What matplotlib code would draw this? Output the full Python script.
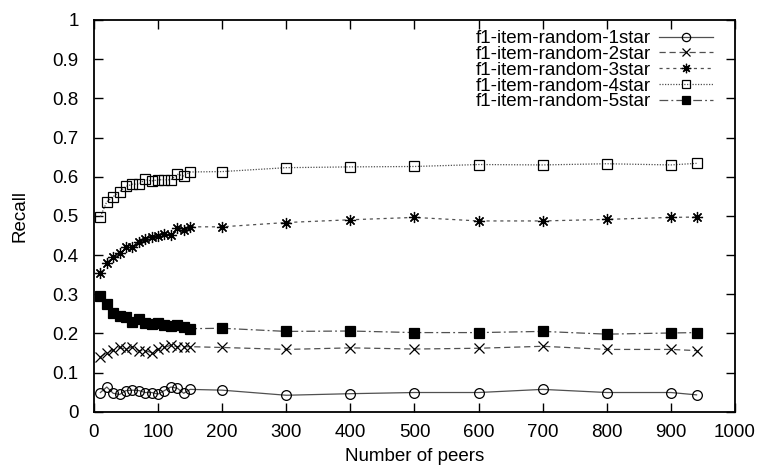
"""Recall vs number of peers, gnuplot-style line chart."""

import matplotlib

matplotlib.use("Agg")

import matplotlib.pyplot as plt  # noqa: E402
from matplotlib.ticker import FormatStrFormatter, MultipleLocator  # noqa: E402

plt.rcParams.update(
    {
        "font.family": ["Liberation Sans", "DejaVu Sans"],
        "font.size": 13.5,
        "xtick.direction": "in",
        "ytick.direction": "in",
        "xtick.top": True,
        "ytick.right": True,
    }
)

peers = [10, 20, 30, 40, 50, 60, 70, 80, 90, 100, 110, 120, 130, 140, 150,
         200, 300, 400, 500, 600, 700, 800, 900, 940]

recall_1star = [0.049, 0.063, 0.047, 0.044, 0.054, 0.055, 0.054, 0.049, 0.049, 0.045,
                0.054, 0.063, 0.060, 0.047, 0.057,
                0.055, 0.042, 0.046, 0.049, 0.049, 0.057, 0.049, 0.049, 0.043]
recall_2star = [0.140, 0.151, 0.157, 0.164, 0.159, 0.166, 0.156, 0.156, 0.151, 0.159,
                0.164, 0.170, 0.166, 0.166, 0.166,
                0.164, 0.159, 0.163, 0.160, 0.162, 0.167, 0.159, 0.159, 0.156]
recall_3star = [0.353, 0.380, 0.396, 0.404, 0.421, 0.420, 0.432, 0.440, 0.447, 0.449,
                0.454, 0.451, 0.468, 0.464, 0.472,
                0.472, 0.483, 0.490, 0.496, 0.487, 0.487, 0.491, 0.496, 0.497]
recall_4star = [0.498, 0.536, 0.549, 0.562, 0.575, 0.581, 0.581, 0.593, 0.589, 0.592,
                0.592, 0.592, 0.606, 0.602, 0.612,
                0.613, 0.623, 0.625, 0.626, 0.631, 0.630, 0.633, 0.630, 0.634]
recall_5star = [0.295, 0.275, 0.253, 0.245, 0.243, 0.230, 0.236, 0.226, 0.224, 0.226,
                0.221, 0.219, 0.222, 0.215, 0.212,
                0.213, 0.205, 0.206, 0.202, 0.202, 0.205, 0.198, 0.201, 0.202]

labels = ["f1-item-random-1star", "f1-item-random-2star", "f1-item-random-3star",
          "f1-item-random-4star", "f1-item-random-5star"]

LINE = "#505050"
styles = [
    dict(ls="-", marker="o", mfc="none", ms=7),
    dict(ls=(0, (5, 3)), marker="x", ms=7),
    dict(ls=(0, (2.5, 3)), marker=(8, 2, 0), ms=8),
    dict(ls=(0, (1, 1.2)), marker="s", mfc="none", ms=7.5),
    dict(ls=(0, (7, 2.5, 1.5, 2.5)), marker="s", mfc="black", ms=7),
]

fig = plt.figure(figsize=(7.59, 4.66), dpi=100)
ax = fig.add_axes([0.1238, 0.1165, 0.8446, 0.8406])

series = [recall_1star, recall_2star, recall_3star, recall_4star, recall_5star]
for values, label, st in zip(series, labels, styles):
    ax.plot(peers, values, color=LINE, lw=0.9, mec="black", mew=0.9, label=label, **st)

ax.set_xlim(0, 1000)
ax.set_ylim(0, 1)
ax.xaxis.set_major_locator(MultipleLocator(100))
ax.yaxis.set_major_locator(MultipleLocator(0.1))
ax.yaxis.set_major_formatter(FormatStrFormatter("%g"))
ax.tick_params(length=6.5, width=1.0)
ax.tick_params(axis="y", pad=11)
ax.tick_params(axis="x", pad=9)
for sp in ax.spines.values():
    sp.set_linewidth(1.3)

ax.set_xlabel("Number of peers", labelpad=5)
ax.set_ylabel("Recall", labelpad=17)

leg = ax.legend(loc="upper right", bbox_to_anchor=(713 / 759, 1 - 30 / 466),
                bbox_transform=fig.transFigure, frameon=False, markerfirst=False,
                borderpad=0, borderaxespad=0, labelspacing=-0.07, handlelength=2.9,
                handletextpad=0.4, numpoints=1, markerscale=0.85)

fig.savefig("out.png", dpi=100)
